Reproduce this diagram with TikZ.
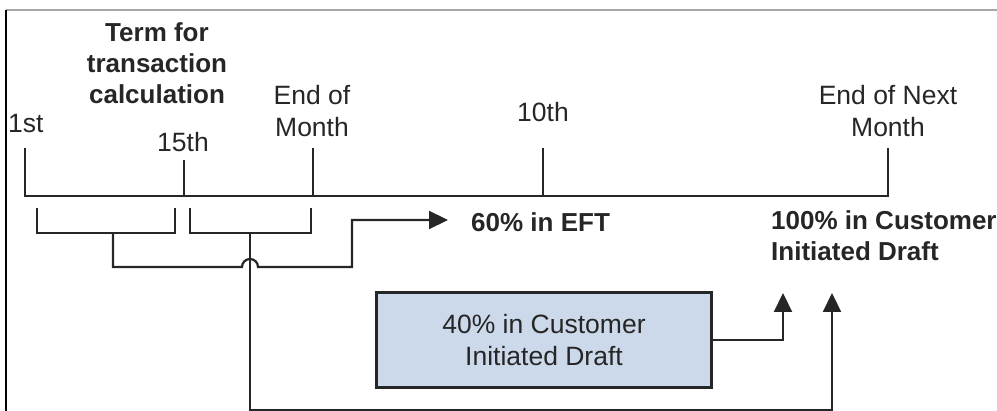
\documentclass[tikz,border=0pt]{standalone}
\usepackage{fontspec}
\setmainfont{Liberation Sans}
\usetikzlibrary{arrows.meta}
\definecolor{txt}{HTML}{262626}
\definecolor{boxfill}{HTML}{CCD9EA}
\begin{document}
\begin{tikzpicture}[x=1pt,y=-1pt,
  lab/.style={font=\fontsize{26.5}{32}\selectfont,text=txt,align=center,inner sep=0pt},
  blab/.style={lab,font=\fontsize{26}{31}\selectfont\bfseries},
  ln/.style={line width=2.2pt,draw=black!85},
  arr/.style={ln,-{Triangle[length=19pt,width=18pt]}},
  draftbox/.style={draw=black!85,line width=2.2pt,fill=boxfill,minimum width=335pt,minimum height=95pt,inner sep=0pt}]
\useasboundingbox (0,0) rectangle (997,411);
% frame
\draw[gray!70,line width=1.5pt] (6,10) -- (997,10);
\draw[black,line width=2pt] (6,10) -- (6,411);
% timeline coordinates
\coordinate (t1) at (25,196);
\coordinate (t1top) at (25,148);
\coordinate (t15) at (184,196);
\coordinate (t15top) at (184,160);
\coordinate (tEom) at (313,196);
\coordinate (tEomtop) at (313,148);
\coordinate (t10) at (543,196);
\coordinate (t10top) at (543,148);
\coordinate (tEnm) at (888,196);
\coordinate (tEnmtop) at (888,148);
\draw[ln,line width=2.6pt] (t1top) -- (t1) -- (tEnm) -- (tEnmtop);
\draw[ln,line width=2.6pt] (t15top) -- (t15);
\draw[ln,line width=2.6pt] (tEomtop) -- (tEom);
\draw[ln,line width=2.6pt] (t10top) -- (t10);
% labels
\node[lab,anchor=west] (l1) at (8,124) {1st};
\node[lab] (l15) at (183,142) {15th};
\node[lab] (leom) at (312,111) {End of\\Month};
\node[lab] (l10) at (543,112) {10th};
\node[lab] (lenm) at (888,111) {End of Next\\Month};
\node[blab] (term) at (157,63) {Term for\\transaction\\calculation};
% brackets
\coordinate (b1l) at (37,208);
\coordinate (b1r) at (175,208);
\coordinate (b2l) at (190,208);
\coordinate (b2r) at (311,208);
\draw[ln] (b1l) -- (37,233) -- (175,233) -- (b1r);
\draw[ln] (b2l) -- (190,233) -- (311,233) -- (b2r);
\coordinate (b1m) at (113,233);
\coordinate (b2m) at (250,233);
% text targets
\node[blab,anchor=west] (eft) at (471,222) {60\% in EFT};
\node[blab,anchor=north west,align=left] (cid) at (771,210) {100\% in Customer\\Initiated Draft};
\node[draftbox] (box) at (544,340) {};
\node[lab] at (box.center) {40\% in Customer\\Initiated Draft};
\coordinate (a1) at (783,293);
\coordinate (a2) at (832,293);
\coordinate (eftin) at (448,220);
% connectors
\draw[arr] (b1m) -- (113,267) -- (242,267) arc[start angle=180,end angle=360,radius=8] -- (352,267) -- (352,220) -- (eftin);
\draw[arr] (b2m) -- (250,410) -- (832,410) -- (a2);
\draw[arr] (box.east |- 0,340) -- (783,340) -- (a1);
\end{tikzpicture}
\end{document}
